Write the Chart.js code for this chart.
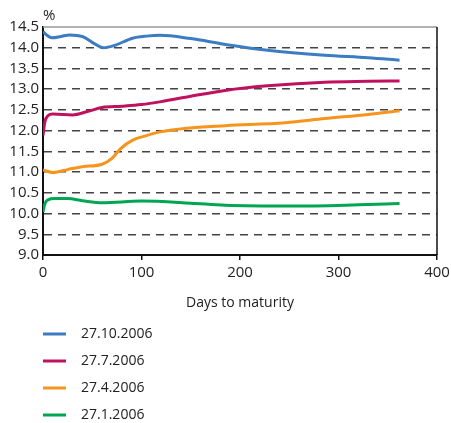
<!DOCTYPE html>
<html>
  <head>
    <script src="https://cdn.jsdelivr.net/npm/chart.js@4/dist/chart.umd.min.js"></script>
    <style>
      body { margin: 0; background: #fff; }
    </style>
  </head>
  <body>
    <div style="width: 451px; height: 423px">
      <canvas id="graph"></canvas>
    </div>
    <script>
      const seriesLabels = ['27.10.2006', '27.7.2006', '27.4.2006', '27.1.2006'];
      const seriesColors = ['#3b7cc3', '#c0105e', '#f7941d', '#00a651'];

      const blueDays = [0, 4, 9, 18, 27, 40, 52, 61, 72, 91, 105, 119, 150, 185, 228, 286, 330, 362];
      const blueVals = [14.39, 14.3, 14.24, 14.27, 14.31, 14.27, 14.1, 14.0, 14.05, 14.23, 14.28, 14.3, 14.22, 14.08, 13.94, 13.82, 13.76, 13.7];

      const redDays = [0, 2, 5, 10, 30, 45, 60, 80, 100, 120, 150, 185, 228, 286, 330, 362];
      const redVals = [11.89, 12.22, 12.36, 12.4, 12.38, 12.46, 12.56, 12.59, 12.63, 12.7, 12.83, 12.97, 13.08, 13.17, 13.19, 13.2];

      const orangeDays = [0, 10, 25, 40, 60, 70, 78, 91, 105, 119, 146, 185, 246, 286, 330, 362];
      const orangeVals = [11.05, 10.99, 11.06, 11.13, 11.19, 11.33, 11.55, 11.77, 11.88, 11.97, 12.06, 12.12, 12.19, 12.29, 12.39, 12.48];

      const greenDays = [0, 2, 5, 12, 25, 40, 60, 100, 150, 185, 253, 320, 362];
      const greenVals = [10.04, 10.24, 10.33, 10.36, 10.36, 10.31, 10.26, 10.3, 10.25, 10.2, 10.18, 10.21, 10.24];

      const xTicks = [0, 100, 200, 300, 400];
      const yTicks = [9.0, 9.5, 10.0, 10.5, 11.0, 11.5, 12.0, 12.5, 13.0, 13.5, 14.0, 14.5];

      const FONT = '"Open Sans", "DejaVu Sans", sans-serif';
      const pts = (xs, ys) => xs.map((x, i) => ({ x: x, y: ys[i] }));
      const allSeries = [pts(blueDays, blueVals), pts(redDays, redVals), pts(orangeDays, orangeVals), pts(greenDays, greenVals)];

      // frame on top/right, "%" label, and the stacked legend underneath
      const extras = {
        id: 'extras',
        afterDraw(chart) {
          const { ctx, chartArea: a } = chart;
          ctx.save();
          ctx.strokeStyle = '#999';
          ctx.lineWidth = 1.5;
          ctx.beginPath();
          ctx.moveTo(a.left, a.top);
          ctx.lineTo(a.right, a.top);
          ctx.stroke();
          ctx.strokeStyle = '#111';
          ctx.beginPath();
          ctx.moveTo(a.right, a.top);
          ctx.lineTo(a.right, a.bottom);
          ctx.stroke();

          ctx.fillStyle = '#222';
          ctx.font = '15px ' + FONT;
          ctx.textAlign = 'left';
          ctx.textBaseline = 'middle';
          ctx.fillText('%', 43, 16);

          ctx.font = '14px ' + FONT;
          seriesLabels.forEach((lab, i) => {
            const y = 334 + i * 27;
            ctx.strokeStyle = seriesColors[i];
            ctx.lineWidth = 3;
            ctx.beginPath();
            ctx.moveTo(43, y);
            ctx.lineTo(66, y);
            ctx.stroke();
            ctx.fillStyle = '#222';
            ctx.fillText(lab, 81, y);
          });
          ctx.restore();
        },
      };

      new Chart(document.getElementById('graph'), {
        type: 'line',
        plugins: [extras],
        data: {
          datasets: allSeries.map((d, i) => ({
            label: seriesLabels[i],
            data: d,
            borderColor: seriesColors[i],
            borderWidth: 3,
            pointRadius: 0,
            cubicInterpolationMode: 'monotone',
            fill: false,
          })),
        },
        options: {
          responsive: true,
          maintainAspectRatio: false,
          animation: false,
          layout: { padding: { top: 27, right: 14, left: 0, bottom: 108 } },
          plugins: { legend: { display: false }, tooltip: { enabled: false } },
          scales: {
            x: {
              type: 'linear',
              min: 0,
              max: 400,
              afterBuildTicks: (s) => { s.ticks = xTicks.map((v) => ({ value: v })); },
              afterFit: (s) => { s.height = 60; s.paddingRight = 0; },
              grid: { drawOnChartArea: false, drawTicks: true, tickLength: 5, color: '#111', lineWidth: 1.5 },
              border: { color: '#111', width: 2 },
              ticks: { color: '#222', font: { family: FONT, size: 15 }, padding: 4, maxRotation: 0, autoSkip: false },
              title: { display: true, text: 'Days to maturity', color: '#222', font: { family: FONT, size: 14 }, padding: { top: 4 } },
            },
            y: {
              min: 9,
              max: 14.5,
              afterBuildTicks: (s) => { s.ticks = yTicks.map((v) => ({ value: v })); },
              afterFit: (s) => { s.width = 43; s.paddingTop = 0; s.paddingBottom = 0; },
              grid: {
                drawTicks: false,
                color: (c) => (c.tick && (c.tick.value === 9 || c.tick.value === 14.5) ? 'rgba(0,0,0,0)' : '#444'),
                lineWidth: 1.5,
              },
              border: { color: '#111', width: 2, dash: [8, 6] },
              ticks: {
                color: '#222',
                font: { family: FONT, size: 15 },
                padding: 4,
                autoSkip: false,
                callback: (v) => Number(v).toFixed(1),
              },
            },
          },
        },
      });
    </script>
  </body>
</html>
